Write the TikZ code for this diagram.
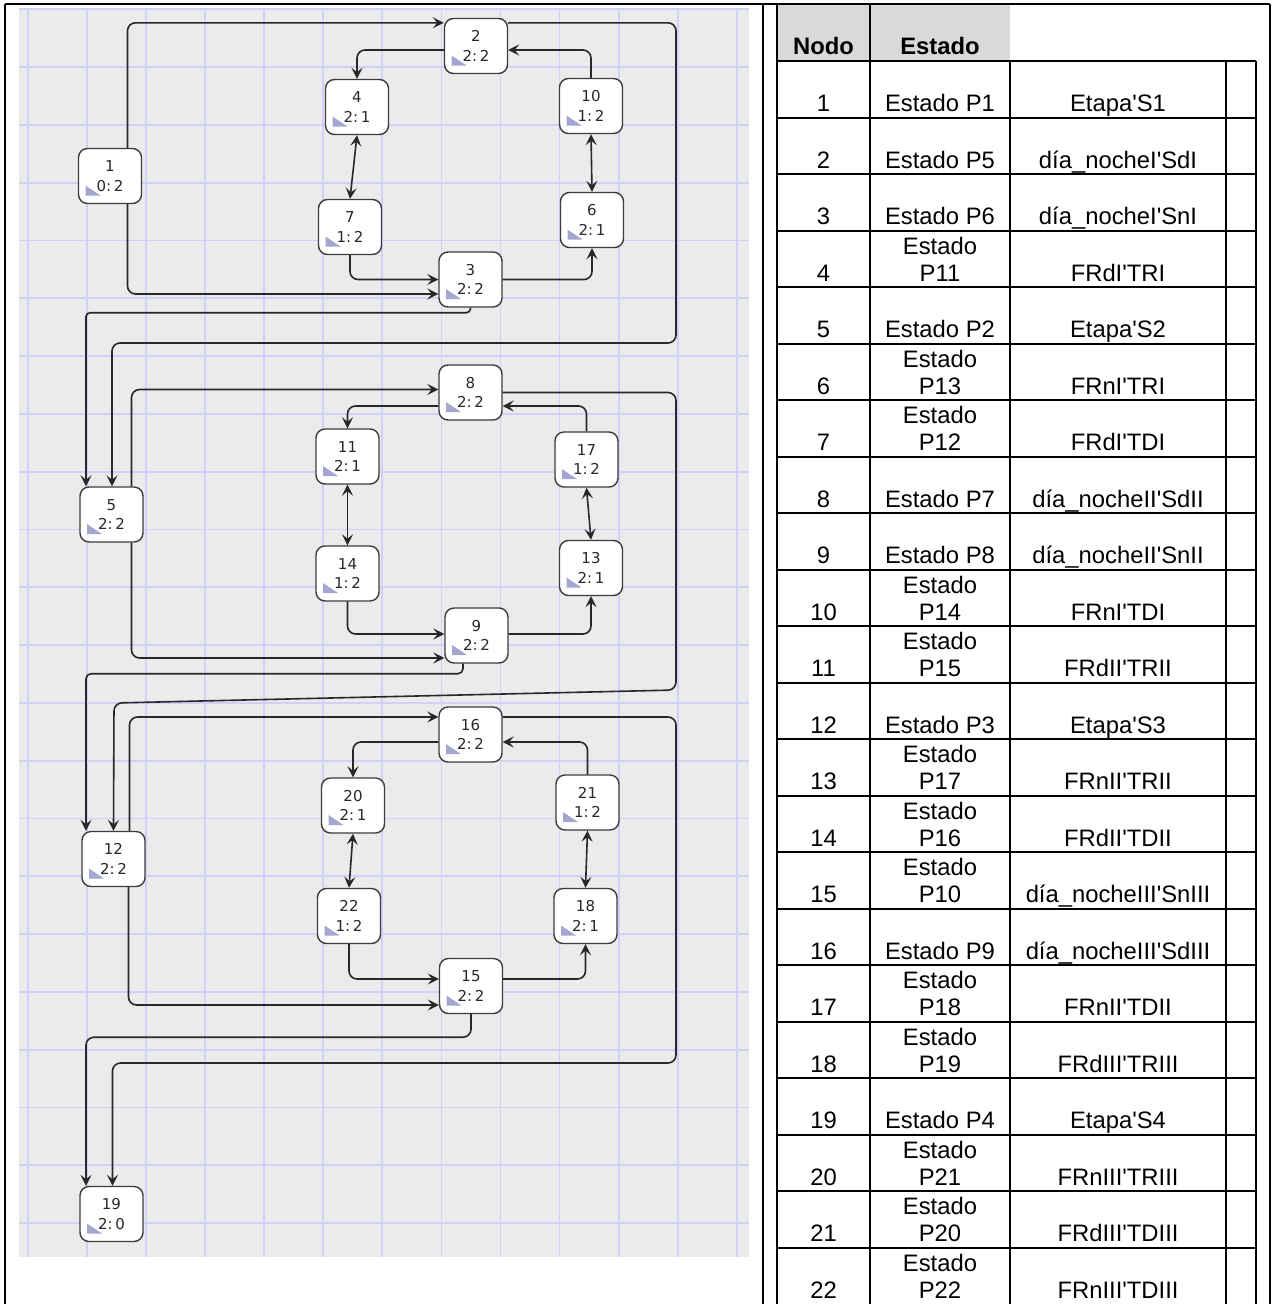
\documentclass[tikz,border=0pt]{standalone}
\usepackage{fontspec}
\setmainfont{Liberation Sans}
\newfontfamily\pixfont{DejaVu Sans}
\usepackage{xcolor}
\usepackage{tikz}
\usetikzlibrary{arrows.meta,calc}

\definecolor{gridbg}{RGB}{235,235,235}
\definecolor{gridln}{RGB}{208,208,248}
\definecolor{wire}{RGB}{40,40,40}
\definecolor{stbord}{RGB}{60,60,60}
\definecolor{trifill}{RGB}{165,165,210}
\definecolor{headgray}{RGB}{217,217,217}
\newcommand{\apos}{\textquotesingle}

\begin{document}
\begin{tikzpicture}[
  x=1pt, y=-1pt,
  >={Stealth[length=11pt,width=11pt,inset=4.5pt]},
  st/.style={draw=stbord, line width=1.4pt, fill=white, rounded corners=9pt, minimum width=63pt, minimum height=55pt, inner sep=0pt, align=center, text=wire, font=\pixfont\fontsize{15}{19.5}\selectfont,
    path picture={\fill[trifill, sharp corners] ($(path picture bounding box.south west)+(7,-8)$) -- ++(15,0) -- ++(-15,-10) -- cycle;}},
  arr/.style={->, draw=wire, line width=1.6pt, rounded corners=8pt},
  dbl/.style={arr, <->},
  gridline/.style={draw=gridln, line width=1.8pt},
  tab/.style={draw=black, line width=2pt},
  cell/.style={inner sep=0pt, text depth=0pt, anchor=south, align=center, font=\fontsize{23.8}{27}\selectfont},
  head/.style={cell, font=\fontsize{23.8}{27}\selectfont\bfseries}
]
\useasboundingbox (0,0) rectangle (1272,1304);

% grid background
\fill[gridbg] (19,8) rectangle (749,1257);
\foreach \i in {0,...,12}
  \draw[gridline] ({28+59.06*\i},8) -- ({28+59.06*\i},1257);
\foreach \j in {0,...,21}
  \draw[gridline] (19,{9.3+57.8*\j}) -- (749,{9.3+57.8*\j});

% states
\node[st] (n1) at (110,176) {1\\0:\,2};
\node[st] (n2) at (476,46) {2\\2:\,2};
\node[st] (n4) at (357,107) {4\\2:\,1};
\node[st] (n10) at (591,106) {10\\1:\,2};
\node[st] (n7) at (350,227) {7\\1:\,2};
\node[st] (n6) at (592,220) {6\\2:\,1};
\node[st] (n3) at (470.5,279.5) {3\\2:\,2};
\node[st] (n8) at (470.5,392.5) {8\\2:\,2};
\node[st] (n11) at (347.5,456.5) {11\\2:\,1};
\node[st] (n17) at (586.5,459.5) {17\\1:\,2};
\node[st] (n5) at (111.5,514.5) {5\\2:\,2};
\node[st] (n14) at (347.5,573.5) {14\\1:\,2};
\node[st] (n13) at (591,568) {13\\2:\,1};
\node[st] (n9) at (476.5,635.5) {9\\2:\,2};
\node[st] (n16) at (470.5,734.5) {16\\2:\,2};
\node[st] (n20) at (353,805.5) {20\\2:\,1};
\node[st] (n21) at (587.5,802.5) {21\\1:\,2};
\node[st] (n12) at (113.5,859) {12\\2:\,2};
\node[st] (n22) at (349,916) {22\\1:\,2};
\node[st] (n18) at (585.5,916) {18\\2:\,1};
\node[st] (n15) at (471,986) {15\\2:\,2};
\node[st] (n19) at (111.5,1214) {19\\2:\,0};

% stage I
\draw[arr] ($(n1.north)+(17.5,0)$) |- ($(n2.north west)+(0,5)$);
\draw[arr] ($(n1.south)+(17.5,0)$) |- ($(n3.west)+(0,14.5)$);
\draw[arr] ($(n2.west)+(0,4)$) -| (n4.north);
\draw[arr] (n10.north) |- ($(n2.east)+(0,4)$);
\draw[dbl] (n4.south) -- (n7.north);
\draw[dbl] (n10.south) -- (n6.north);
\draw[arr] (n7.south) |- (n3.west);
\draw[arr] (n3.east) -| (n6.south);
\draw[arr, rounded corners=4pt] (n3.south) -- ++(0,5) -| ($(n5.north)+(-25.5,0)$);
\draw[arr] ($(n2.north east)+(0,5)$) -| (676,343) -| ($(n5.north)+(0.5,0)$);

% stage II
\draw[arr] ($(n5.north)+(20,0)$) |- ($(n8.west)+(0,-3)$);
\draw[arr] ($(n5.south)+(20,0)$) |- ($(n9.west)+(0,22.5)$);
\draw[arr] ($(n8.west)+(0,13.5)$) -| (n11.north);
\draw[arr] (n17.north) |- ($(n8.east)+(0,13.5)$);
\draw[dbl] (n11.south) -- (n14.north);
\draw[dbl] (n17.south) -- (n13.north);
\draw[arr] (n14.south) |- ($(n9.west)+(0,-1.5)$);
\draw[arr] ($(n9.east)+(0,-1.5)$) -| (n13.south);
\draw[arr, rounded corners=5pt] ($(n9.south)+(-13.5,0)$) -- ++(0,10) -| ($(n12.north)+(-27.5,0)$);
\draw[arr] (n8.east) -| (676,690) -- (114,703) -- (n12.north);

% stage III
\draw[arr] ($(n12.north)+(16,0)$) |- ($(n16.west)+(0,-17.5)$);
\draw[arr] ($(n12.south)+(15,0)$) |- ($(n15.west)+(0,19)$);
\draw[arr] ($(n16.west)+(0,7.5)$) -| (n20.north);
\draw[arr] (n21.north) |- ($(n16.east)+(0,7.5)$);
\draw[dbl] (n20.south) -- (n22.north);
\draw[dbl] (n21.south) -- (n18.north);
\draw[arr] (n22.south) |- ($(n15.west)+(0,-7)$);
\draw[arr] ($(n15.east)+(0,-7)$) -| (n18.south);
\draw[arr] (n15.south) -- ++(0,23) -| ($(n19.north)+(-25.5,0)$);
\draw[arr] ($(n16.east)+(0,-17.5)$) -| (676,1063) -| ($(n19.north)+(1,0)$);

% table
\fill[headgray] (777,4) rectangle (1010,61);
\draw[tab] (5,4) -- (1270,4);
\draw[tab] (5,4) -- (5,1304);
\draw[tab] (763,4) -- (763,1304);
\draw[tab] (1270,4) -- (1270,1304);
\draw[tab] (777,4) -- (777,1304);
\draw[tab] (870,4) -- (870,1304);
\draw[tab] (1010,61) -- (1010,1304);
\draw[tab] (1226,61) -- (1226,1304);
\draw[tab] (1256,61) -- (1256,1304);
\foreach \k in {0,...,21}
  \draw[tab] (777,{61+56.5*\k}) -- (1256,{61+56.5*\k});

\node[head] (hnodo) at (823.5,55) {Nodo};
\node[head] (hestado) at (940,55) {Estado};

\foreach \k/\est/\lab in {
  1/Estado P1/Etapa\apos S1,
  2/Estado P5/día\_nocheI\apos SdI,
  3/Estado P6/día\_nocheI\apos SnI,
  4/Estado\\P11/FRdI\apos TRI,
  5/Estado P2/Etapa\apos S2,
  6/Estado\\P13/FRnI\apos TRI,
  7/Estado\\P12/FRdI\apos TDI,
  8/Estado P7/día\_nocheII\apos SdII,
  9/Estado P8/día\_nocheII\apos SnII,
  10/Estado\\P14/FRnI\apos TDI,
  11/Estado\\P15/FRdII\apos TRII,
  12/Estado P3/Etapa\apos S3,
  13/Estado\\P17/FRnII\apos TRII,
  14/Estado\\P16/FRdII\apos TDII,
  15/Estado\\P10/día\_nocheIII\apos SnIII,
  16/Estado P9/día\_nocheIII\apos SdIII,
  17/Estado\\P18/FRnII\apos TDII,
  18/Estado\\P19/FRdIII\apos TRIII,
  19/Estado P4/Etapa\apos S4,
  20/Estado\\P21/FRnIII\apos TRIII,
  21/Estado\\P20/FRdIII\apos TDIII,
  22/Estado\\P22/FRnIII\apos TDIII}{
  \node[cell] (nodo\k) at (823.5,{55.5+56.5*\k}) {\k};
  \node[cell] (est\k) at (940,{55.5+56.5*\k}) {\est};
  \node[cell] (lab\k) at (1118,{55.5+56.5*\k}) {\lab};
}
\end{tikzpicture}
\end{document}
